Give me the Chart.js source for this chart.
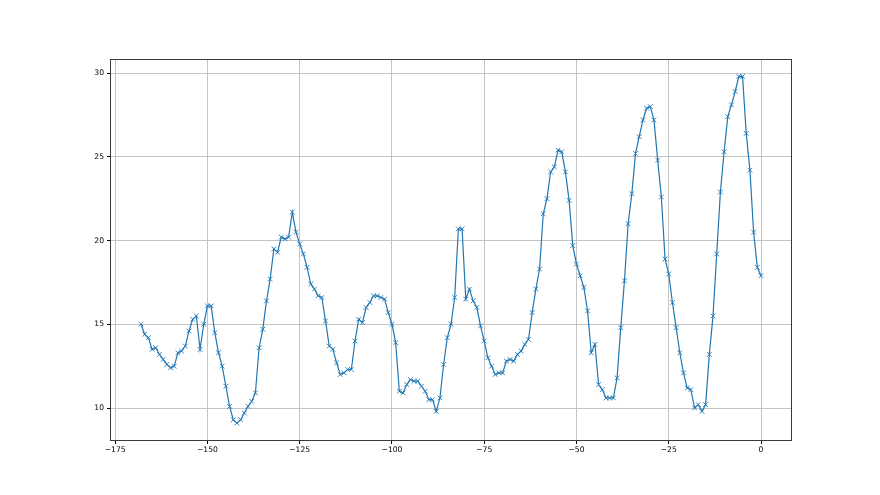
<!DOCTYPE html>
<html>
<head>
<meta charset="utf-8">
<script src="https://cdn.jsdelivr.net/npm/chart.js@4.4.1/dist/chart.umd.min.js"></script>
<style>
  html, body { margin: 0; padding: 0; background: #fff; }
  #wrap { width: 880px; height: 495px; }
</style>
</head>
<body>
<div id="wrap"><canvas id="c" width="880" height="495"></canvas></div>
<script>
const hours = [
  -168,-167,-166,-165,-164,-163,-162,-161,-160,-159,-158,-157,-156,-155,-154,-153,-152,-151,-150,-149,
  -148,-147,-146,-145,-144,-143,-142,-141,-140,-139,-138,-137,-136,-135,-134,-133,-132,-131,-130,-129,
  -128,-127,-126,-125,-124,-123,-122,-121,-120,-119,-118,-117,-116,-115,-114,-113,-112,-111,-110,-109,
  -108,-107,-106,-105,-104,-103,-102,-101,-100,-99,-98,-97,-96,-95,-94,-93,-92,-91,-90,-89,
  -88,-87,-86,-85,-84,-83,-82,-81,-80,-79,-78,-77,-76,-75,-74,-73,-72,-71,-70,-69,
  -68,-67,-66,-65,-64,-63,-62,-61,-60,-59,-58,-57,-56,-55,-54,-53,-52,-51,-50,-49,
  -48,-47,-46,-45,-44,-43,-42,-41,-40,-39,-38,-37,-36,-35,-34,-33,-32,-31,-30,-29,
  -28,-27,-26,-25,-24,-23,-22,-21,-20,-19,-18,-17,-16,-15,-14,-13,-12,-11,-10,-9,
  -8,-7,-6,-5,-4,-3,-2,-1,0
];
const values = [
  15.0,14.4,14.2,13.5,13.6,13.2,12.9,12.6,12.4,12.5,13.3,13.4,13.7,14.6,15.3,15.5,13.5,15.0,16.1,16.1,
  14.5,13.3,12.5,11.3,10.1,9.3,9.1,9.3,9.7,10.1,10.4,10.9,13.6,14.7,16.4,17.7,19.5,19.3,20.2,20.1,
  20.2,21.7,20.5,19.8,19.2,18.4,17.4,17.1,16.7,16.6,15.2,13.7,13.5,12.7,12.0,12.1,12.3,12.3,14.0,15.3,
  15.1,16.0,16.3,16.7,16.7,16.6,16.5,15.7,15.0,13.9,11.0,10.9,11.4,11.7,11.6,11.6,11.3,11.0,10.5,10.5,
  9.8,10.6,12.6,14.2,15.0,16.6,20.7,20.7,16.5,17.1,16.4,16.0,14.9,14.0,13.0,12.5,12.0,12.1,12.1,12.8,
  12.9,12.8,13.2,13.4,13.8,14.1,15.7,17.1,18.3,21.6,22.5,24.1,24.4,25.4,25.3,24.1,22.4,19.7,18.6,17.9,
  17.2,15.8,13.3,13.8,11.4,11.1,10.6,10.6,10.6,11.8,14.8,17.6,21.0,22.8,25.2,26.2,27.2,27.9,28.0,27.2,
  24.8,22.6,18.9,18.0,16.3,14.8,13.3,12.1,11.2,11.1,10.0,10.2,9.8,10.2,13.2,15.5,19.2,22.9,25.3,27.4,
  28.1,28.9,29.8,29.8,26.4,24.2,20.5,18.4,17.9
];
const xTicks = [-175, -150, -125, -100, -75, -50, -25, 0];
const yTicks = [10, 15, 20, 25, 30];

const points = hours.map((h, i) => ({ x: h, y: values[i] }));
const fmt = v => (v < 0 ? '\u2212' + Math.abs(v) : String(v));

const framePlugin = {
  id: 'frame',
  afterDraw(chart) {
    const { ctx, chartArea: a } = chart;
    ctx.save();
    ctx.strokeStyle = '#3a3a3a';
    ctx.lineWidth = 1;
    ctx.strokeRect(Math.round(a.left) + 0.5, Math.round(a.top) + 0.5,
                   Math.round(a.right - a.left) - 1, Math.round(a.bottom - a.top) - 1);
    ctx.restore();
  }
};

new Chart(document.getElementById('c'), {
  type: 'scatter',
  data: {
    datasets: [{
      data: points,
      showLine: true,
      borderColor: '#1f77b4',
      borderWidth: 1.2,
      backgroundColor: '#1f77b4',
      pointStyle: 'crossRot',
      pointRadius: 3.3,
      pointBorderWidth: 0.9,
      pointBorderColor: '#1f77b4',
      pointHoverRadius: 3.3,
      tension: 0
    }]
  },
  options: {
    responsive: false,
    animation: false,
    events: [],
    layout: { padding: { left: 0, right: 88, top: 59, bottom: 0 } },
    plugins: { legend: { display: false }, tooltip: { enabled: false } },
    scales: {
      x: {
        type: 'linear',
        min: -176.4,
        max: 8.4,
        afterBuildTicks: s => { s.ticks = xTicks.map(v => ({ value: v })); },
        afterFit: s => { s.height = 54; },
        ticks: {
          callback: v => fmt(v),
          color: '#000',
          font: { family: 'DejaVu Sans', size: 7.6 },
          padding: 1,
          maxRotation: 0,
          autoSkip: false
        },
        grid: {
          color: '#c4c4c4',
          lineWidth: 1,
          tickColor: '#000',
          tickLength: 3,
          tickWidth: 1
        },
        border: { display: false }
      },
      y: {
        type: 'linear',
        min: 8.03,
        max: 30.84,
        afterBuildTicks: s => { s.ticks = yTicks.map(v => ({ value: v })); },
        afterFit: s => { s.width = 110; },
        ticks: {
          callback: v => fmt(v),
          color: '#000',
          font: { family: 'DejaVu Sans', size: 7.6 },
          padding: 3,
          autoSkip: false
        },
        grid: {
          color: '#c4c4c4',
          lineWidth: 1,
          tickColor: '#000',
          tickLength: 3,
          tickWidth: 1
        },
        border: { display: false }
      }
    }
  },
  plugins: [framePlugin]
});
</script>
</body>
</html>
